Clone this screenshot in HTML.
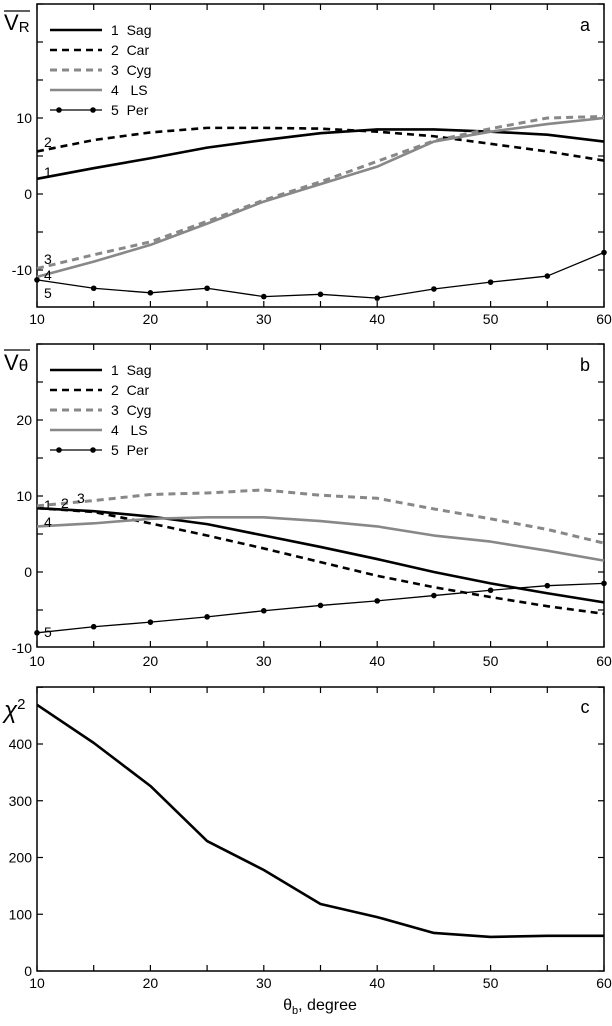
<!DOCTYPE html>
<html><head><meta charset="utf-8"><style>
body{margin:0;background:#fff}
svg text{font-family:"Liberation Sans",sans-serif;white-space:pre;}
</style></head><body>
<svg id="c" width="612" height="1021" viewBox="0 0 612 1021" xmlns="http://www.w3.org/2000/svg"></svg>
<script>
const xs=[10,15,20,25,30,35,40,45,50,55,60];
const aSag=[2.0,3.4,4.7,6.1,7.1,8.0,8.5,8.5,8.2,7.8,6.9];
const aCar=[5.6,7.1,8.1,8.7,8.7,8.6,8.2,7.6,6.6,5.6,4.4];
const aCyg=[-9.8,-8.0,-6.3,-3.6,-0.8,1.6,4.3,7.0,8.6,10.0,10.2];
const aLS=[-10.9,-8.9,-6.7,-3.9,-1.0,1.3,3.6,6.9,8.2,9.2,10.0];
const aPer=[-11.3,-12.4,-13.0,-12.4,-13.5,-13.2,-13.7,-12.5,-11.6,-10.8,-7.7];
const bSag=[8.4,8.0,7.3,6.3,4.8,3.3,1.7,0,-1.5,-2.8,-4.0];
const bCar=[8.4,7.9,6.4,4.8,3.1,1.3,-0.5,-2.0,-3.3,-4.5,-5.5];
const bCyg=[8.7,9.4,10.2,10.4,10.8,10.1,9.7,8.3,7.0,5.6,3.8];
const bLS=[6.0,6.4,7.0,7.2,7.2,6.7,6.0,4.8,4.0,2.8,1.5];
const bPer=[-8.0,-7.2,-6.6,-5.9,-5.1,-4.4,-3.8,-3.1,-2.4,-1.8,-1.5];
const chi=[469,402,326,229,178,118,95,67,60,62,62];
const xTicks=[10,20,30,40,50,60];
const aTicks=[-10,0,10];
const bTicks=[-10,0,10,20];
const cTicks=[0,100,200,300,400];
const legendNames=["1  Sag","2  Car","3  Cyg","4   LS","5  Per"];

const svg=document.getElementById('c');
const NS='http://www.w3.org/2000/svg';
function mk(tag,attrs,parent){const e=document.createElementNS(NS,tag);for(const k in attrs)e.setAttribute(k,attrs[k]);(parent||svg).appendChild(e);return e;}
const L=37,R=604;
const X=v=>L+(v-10)*(R-L)/50;
const styles=[
 {stroke:'#000',w:2.6,dash:''},
 {stroke:'#000',w:2.6,dash:'7,5'},
 {stroke:'#888',w:3,dash:'7,5'},
 {stroke:'#888',w:2.6,dash:''},
 {stroke:'#000',w:1.3,dash:''}];

function panel(name,top,bot,Y,yMin,yMax,yStep,labTicks,letter,letterY,labelY){
  const g=mk('g',{});
  
  
  const fr=mk('rect',{x:L,y:top,width:R-L,height:bot-top,fill:'none',stroke:'#000','stroke-width':1.5},g);
  
  
  for(let v=10;v<=60;v+=5){
    mk('line',{x1:X(v),x2:X(v),y1:top,y2:top+6,stroke:'#000','stroke-width':1.2},g);
    mk('line',{x1:X(v),x2:X(v),y1:bot,y2:bot-6,stroke:'#000','stroke-width':1.2},g);
  }
  for(let v=yMin;v<=yMax;v+=yStep){
    const y=Y(v); if(y<top||y>bot)continue;
    mk('line',{x1:L,x2:L+6,y1:y,y2:y,stroke:'#000','stroke-width':1.2},g);
    mk('line',{x1:R,x2:R-6,y1:y,y2:y,stroke:'#000','stroke-width':1.2},g);
  }
  xTicks.forEach(v=>{const t=mk('text',{x:X(v),y:labelY,'font-size':14,'text-anchor':'middle'},g);t.textContent=v;
    });
  labTicks.forEach(v=>{const t=mk('text',{x:L-5,y:Y(v)+5,'font-size':14,'text-anchor':'end'},g);t.textContent=v;
    });
  const lt=mk('text',{x:585,y:letterY,'font-size':18,'text-anchor':'middle'},g);lt.textContent=letter;
  
  return g;
}
function series(g,vals,Y,st,name,markers){
  const pts=xs.map((x,i)=>X(x)+','+Y(vals[i])).join(' ');
  const p=mk('polyline',{points:pts,fill:'none',stroke:st.stroke,'stroke-width':st.w,'stroke-dasharray':st.dash,'stroke-linejoin':'round'},g);
  
  
  if(markers) xs.forEach((x,i)=>{const c=mk('circle',{cx:X(x),cy:Y(vals[i]),r:2.8,fill:'#000'},g);
    });
}
function legend(g,y0){
  legendNames.forEach((n,i)=>{
    const y=y0+i*20, st=styles[i];
    mk('line',{x1:50,x2:102,y1:y,y2:y,stroke:st.stroke,'stroke-width':st.w,'stroke-dasharray':st.dash},g);
    if(i==4){mk('circle',{cx:59,cy:y,r:2.8,fill:'#000'},g);mk('circle',{cx:93,cy:y,r:2.8,fill:'#000'},g);}
    const t=mk('text',{x:111,y:y+5,'font-size':14},g);t.textContent=n;
    
  });
}
function lab(g,txt,x,y){const t=mk('text',{x:x,y:y,'font-size':14},g);t.textContent=txt;
  }

// panel a
const Ya=v=>194-7.6*v;
const ga=panel('panel-a',4,307,Ya,-10,25,5,aTicks,'a',31,324);
[aSag,aCar,aCyg,aLS,aPer].forEach((d,i)=>series(ga,d,Ya,styles[i],'series-a-'+(i+1),i==4));
legend(ga,30);
lab(ga,'1',44,177);lab(ga,'2',44,147);lab(ga,'3',44,264);lab(ga,'4',44,280);lab(ga,'5',44,298);
const ta=mk('text',{x:4,y:30,'font-size':22},ga);ta.innerHTML='V<tspan font-size="15" dy="2">R</tspan>';

mk('line',{x1:4,x2:30,y1:11,y2:11,stroke:'#000','stroke-width':1.3},ga);

// panel b
const Yb=v=>572-7.6*v;
const gb=panel('panel-b',344,647,Yb,-10,30,5,bTicks,'b',371,666);
[bSag,bCar,bCyg,bLS,bPer].forEach((d,i)=>series(gb,d,Yb,styles[i],'series-b-'+(i+1),i==4));
legend(gb,370);
lab(gb,'1',44,510);lab(gb,'2',61,508);lab(gb,'3',77,503);lab(gb,'4',44,527);lab(gb,'5',44,637);
const tb=mk('text',{x:4,y:370,'font-size':22},gb);tb.innerHTML='V<tspan font-size="17" dy="1">θ</tspan>';

mk('line',{x1:4,x2:30,y1:350,y2:350,stroke:'#000','stroke-width':1.3},gb);

// panel c
const Yc=v=>971-0.5675*v;
const gc=panel('panel-c',687,971,Yc,0,500,100,cTicks,'c',713,988);
series(gc,chi,Yc,{stroke:'#000',w:2.6,dash:''},'series-chi2',false);
const tc=mk('text',{x:4,y:718,'font-size':24,'font-style':'italic'},gc);tc.innerHTML='χ<tspan font-size="15" dy="-9" font-style="normal">2</tspan>';

const xt=mk('text',{x:320,y:1010,'font-size':16,'text-anchor':'middle'});xt.innerHTML='θ<tspan font-size="11" dy="4">b</tspan><tspan dy="-4">, degree</tspan>';

</script>
</body></html>
